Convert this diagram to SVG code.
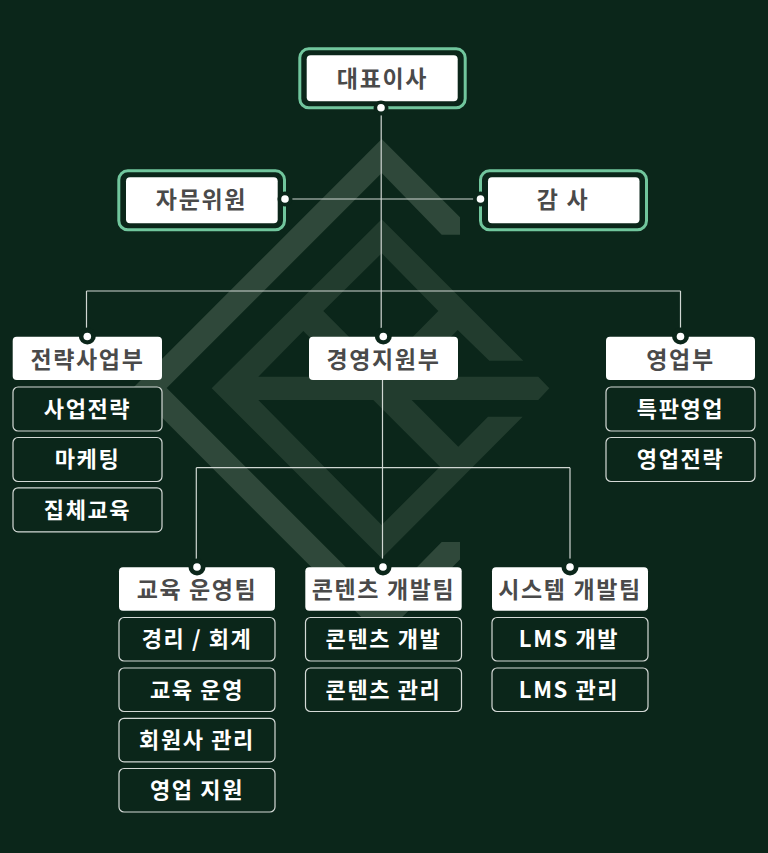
<svg xmlns="http://www.w3.org/2000/svg" width="768" height="853" viewBox="0 0 768 853">
<style>
text{font-family:"Noto Sans CJK KR","Noto Sans",sans-serif;text-anchor:middle;dominant-baseline:auto}
.w{fill:#fff;rx:4px}
.g{fill:none;stroke:#71c69d;stroke-width:3;rx:9px}
.s{fill:#0b261a;stroke:#d4d9d6;stroke-width:1.2;rx:5px}
.tl{font-size:23px;font-weight:700;fill:#4a4a4a;letter-spacing:1.7px}
.td{font-size:23px;font-weight:700;fill:#4a4a4a;letter-spacing:1.6px}
.ts{font-size:22px;font-weight:700;fill:#fff;letter-spacing:1.6px}
.c line{stroke:#d0d6d2;stroke-width:1.2}
.n{fill:#0b261a}
.d{fill:#fff}
</style>
<rect width="768" height="853" fill="#0b261a"/>
<g id="watermark">
<polygon fill="#2f483a" points="381.7,139 460,217.3 460,234.7 441.7,234.7 381.7,173 166.7,388 381.7,603 441.7,542 460,542 460,559.5 381.7,637.6 132.7,388.3"/>
<path fill="#223c2e" fill-rule="evenodd" d="M381.7,219.3L523.3,360.7H489.3L457.7,330L411,376.7H538.3L549.3,388.3L538.3,400H411.7L458.3,446.7L488,416.7H522.7L381.7,558.3L211.7,388.3ZM381.7,253.3L438.3,311L381,369L323.3,311ZM303.3,331L258.3,376.7H349ZM258.3,400H373.3L440,466.7L381.7,525Z"/>
</g>
<g id="connectors" class="c">
<line x1="381.2" y1="108" x2="381.2" y2="330"/>
<line x1="292" y1="199" x2="474" y2="199"/>
<line x1="86.5" y1="291" x2="680.5" y2="291"/>
<line x1="86.5" y1="291" x2="86.5" y2="330"/>
<line x1="680.5" y1="291" x2="680.5" y2="330"/>
<line x1="382.5" y1="380" x2="382.5" y2="560"/>
<line x1="196.3" y1="467.7" x2="570" y2="467.7"/>
<line x1="196.3" y1="467.7" x2="196.3" y2="560"/>
<line x1="570" y1="467.7" x2="570" y2="560"/>
</g>
<g id="ceo">
<rect class="g" x="299.8" y="48.8" width="165.4" height="59"/>
<rect class="w" x="306.7" y="55.3" width="151" height="46"/>
<circle class="n" cx="381" cy="108" r="7.5"/><circle class="d" cx="381" cy="107.8" r="3.8"/>
<text class="tl" x="382.5" y="86.5">대표이사</text>
</g>
<g id="advisory">
<rect class="g" x="118.8" y="170.8" width="165.7" height="59"/>
<rect class="w" x="126" y="177.3" width="151.7" height="46"/>
<circle class="n" cx="285" cy="199" r="7.5"/><circle class="d" cx="285" cy="199" r="3.8"/>
<text class="tl" x="201.5" y="207.5">자문위원</text>
</g>
<g id="audit">
<rect class="g" x="480.5" y="170.8" width="166" height="59"/>
<rect class="w" x="488" y="177.3" width="151.5" height="46"/>
<circle class="n" cx="480.5" cy="199" r="7.5"/><circle class="d" cx="480.5" cy="199" r="3.8"/>
<text class="tl" x="563" y="207.5" xml:space="preserve">감 사</text>
</g>
<g id="dept-strategy">
<rect class="w" x="12.7" y="336.7" width="149.3" height="43.3"/>
<circle class="n" cx="87.3" cy="336" r="8.5"/><circle class="d" cx="87.3" cy="336.5" r="3.8"/>
<text class="td" x="87.5" y="368">전략사업부</text>
</g>
<g id="strategy-1"><rect class="s" x="13" y="387" width="149" height="44"/><text class="ts" x="87.5" y="416.5">사업전략</text></g>
<g id="strategy-2"><rect class="s" x="13" y="437.5" width="149" height="44"/><text class="ts" x="87.5" y="466.5">마케팅</text></g>
<g id="strategy-3"><rect class="s" x="13" y="487.8" width="149" height="44"/><text class="ts" x="87.5" y="517.5">집체교육</text></g>
<g id="dept-support">
<rect class="w" x="309" y="336.7" width="149" height="43.3"/>
<circle class="n" cx="383.3" cy="336" r="8.5"/><circle class="d" cx="383.3" cy="336.5" r="3.8"/>
<text class="td" x="383.5" y="368">경영지원부</text>
</g>
<g id="dept-sales">
<rect class="w" x="606" y="336.7" width="149" height="43.3"/>
<circle class="n" cx="680.5" cy="336" r="8.5"/><circle class="d" cx="680.5" cy="336.5" r="3.8"/>
<text class="td" x="680.5" y="368">영업부</text>
</g>
<g id="sales-1"><rect class="s" x="606" y="387" width="149" height="44"/><text class="ts" x="680.5" y="416.5">특판영업</text></g>
<g id="sales-2"><rect class="s" x="606" y="437.5" width="149" height="44"/><text class="ts" x="680.5" y="466.5">영업전략</text></g>
<g id="team-edu">
<rect class="w" x="119" y="567.3" width="156" height="43.4"/>
<circle class="n" cx="197" cy="567" r="8.5"/><circle class="d" cx="197" cy="567" r="3.8"/>
<text class="td" x="197" y="597.5" xml:space="preserve">교육 운영팀</text>
</g>
<g id="edu-1"><rect class="s" x="119" y="617.5" width="156" height="43.5"/><text class="ts" x="197" y="647">경리 / 회계</text></g>
<g id="edu-2"><rect class="s" x="119" y="668" width="156" height="43.5"/><text class="ts" x="197" y="697.5">교육 운영</text></g>
<g id="edu-3"><rect class="s" x="119" y="718.3" width="156" height="43.5"/><text class="ts" x="197" y="747.5">회원사 관리</text></g>
<g id="edu-4"><rect class="s" x="119" y="768.5" width="156" height="43.5"/><text class="ts" x="197" y="798">영업 지원</text></g>
<g id="team-content">
<rect class="w" x="305.3" y="567.3" width="156.4" height="43.4"/>
<circle class="n" cx="383" cy="567" r="8.5"/><circle class="d" cx="383" cy="567" r="3.8"/>
<text class="td" x="383.5" y="597.5">콘텐츠 개발팀</text>
</g>
<g id="content-1"><rect class="s" x="305.5" y="617.5" width="156" height="43.5"/><text class="ts" x="383.5" y="647">콘텐츠 개발</text></g>
<g id="content-2"><rect class="s" x="305.5" y="668" width="156" height="43.5"/><text class="ts" x="383.5" y="697.5">콘텐츠 관리</text></g>
<g id="team-system">
<rect class="w" x="492" y="567.3" width="156" height="43.4"/>
<circle class="n" cx="570" cy="567" r="8.5"/><circle class="d" cx="570" cy="567" r="3.8"/>
<text class="td" x="570" y="597.5">시스템 개발팀</text>
</g>
<g id="system-1"><rect class="s" x="492" y="617.5" width="156" height="43.5"/><text class="ts" x="569" y="647">LMS 개발</text></g>
<g id="system-2"><rect class="s" x="492" y="668" width="156" height="43.5"/><text class="ts" x="569" y="697.5">LMS 관리</text></g>
</svg>
